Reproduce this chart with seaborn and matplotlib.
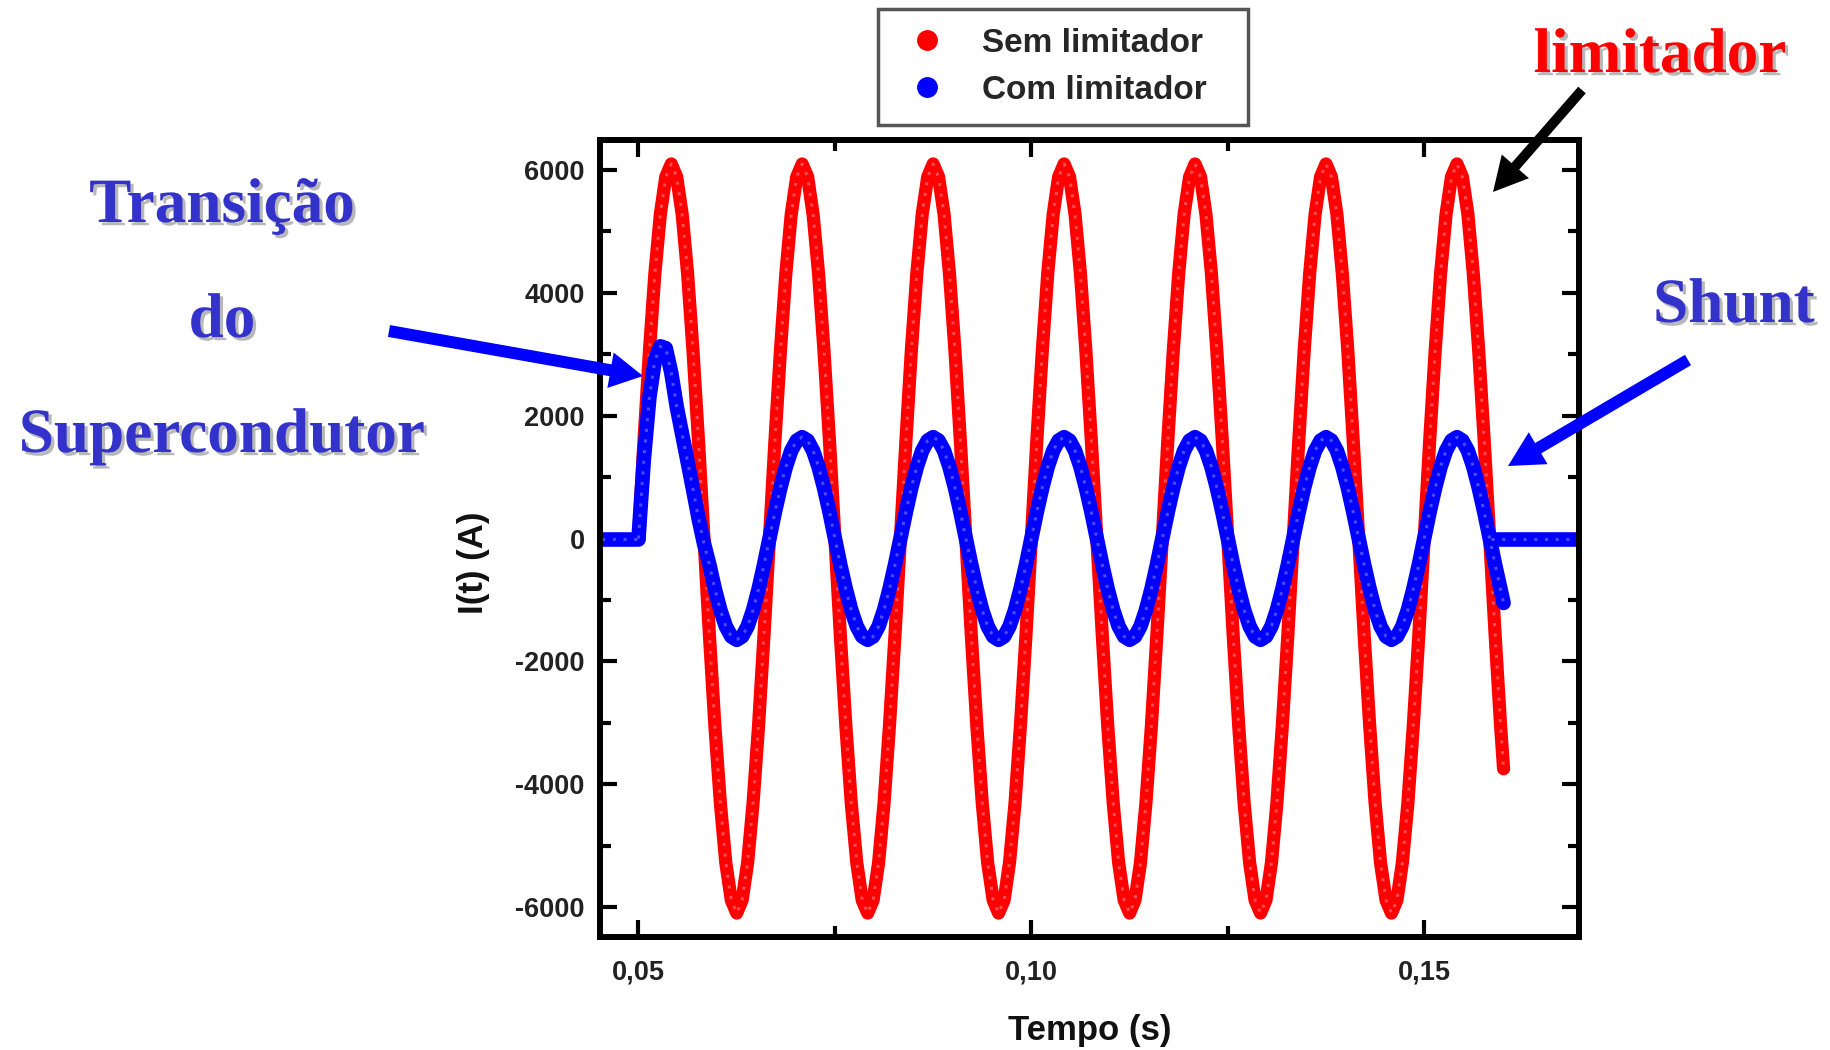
import pandas as pd
import seaborn as sns
import matplotlib.pyplot as plt
import matplotlib.patheffects as pe
from matplotlib.lines import Line2D
from matplotlib.patches import FancyArrow
from matplotlib.ticker import MultipleLocator
from matplotlib.transforms import IdentityTransform

# Tempo das amostras (s), 24 amostras por ciclo de 60 Hz
tempo = [
    0.05000, 0.05069, 0.05139, 0.05208, 0.05278, 0.05347, 0.05417, 0.05486, 0.05556, 0.05625, 0.05694, 0.05764,
    0.05833, 0.05903, 0.05972, 0.06042, 0.06111, 0.06181, 0.06250, 0.06319, 0.06389, 0.06458, 0.06528, 0.06597,
    0.06667, 0.06736, 0.06806, 0.06875, 0.06944, 0.07014, 0.07083, 0.07153, 0.07222, 0.07292, 0.07361, 0.07431,
    0.07500, 0.07569, 0.07639, 0.07708, 0.07778, 0.07847, 0.07917, 0.07986, 0.08056, 0.08125, 0.08194, 0.08264,
    0.08333, 0.08403, 0.08472, 0.08542, 0.08611, 0.08681, 0.08750, 0.08819, 0.08889, 0.08958, 0.09028, 0.09097,
    0.09167, 0.09236, 0.09306, 0.09375, 0.09444, 0.09514, 0.09583, 0.09653, 0.09722, 0.09792, 0.09861, 0.09931,
    0.10000, 0.10069, 0.10139, 0.10208, 0.10278, 0.10347, 0.10417, 0.10486, 0.10556, 0.10625, 0.10694, 0.10764,
    0.10833, 0.10903, 0.10972, 0.11042, 0.11111, 0.11181, 0.11250, 0.11319, 0.11389, 0.11458, 0.11528, 0.11597,
    0.11667, 0.11736, 0.11806, 0.11875, 0.11944, 0.12014, 0.12083, 0.12153, 0.12222, 0.12292, 0.12361, 0.12431,
    0.12500, 0.12569, 0.12639, 0.12708, 0.12778, 0.12847, 0.12917, 0.12986, 0.13056, 0.13125, 0.13194, 0.13264,
    0.13333, 0.13403, 0.13472, 0.13542, 0.13611, 0.13681, 0.13750, 0.13819, 0.13889, 0.13958, 0.14028, 0.14097,
    0.14167, 0.14236, 0.14306, 0.14375, 0.14444, 0.14514, 0.14583, 0.14653, 0.14722, 0.14792, 0.14861, 0.14931,
    0.15000, 0.15069, 0.15139, 0.15208, 0.15278, 0.15347, 0.15417, 0.15486, 0.15556, 0.15625, 0.15694, 0.15764,
    0.15833, 0.15903, 0.15972, 0.16010,
]

# Corrente sem limitador (A)
sem_limitador = [
    0, 1580, 3050, 4310, 5280, 5890, 6100, 5890, 5280, 4310, 3050, 1580,
    0, -1580, -3050, -4310, -5280, -5890, -6100, -5890, -5280, -4310, -3050, -1580,
    0, 1580, 3050, 4310, 5280, 5890, 6100, 5890, 5280, 4310, 3050, 1580,
    0, -1580, -3050, -4310, -5280, -5890, -6100, -5890, -5280, -4310, -3050, -1580,
    0, 1580, 3050, 4310, 5280, 5890, 6100, 5890, 5280, 4310, 3050, 1580,
    0, -1580, -3050, -4310, -5280, -5890, -6100, -5890, -5280, -4310, -3050, -1580,
    0, 1580, 3050, 4310, 5280, 5890, 6100, 5890, 5280, 4310, 3050, 1580,
    0, -1580, -3050, -4310, -5280, -5890, -6100, -5890, -5280, -4310, -3050, -1580,
    0, 1580, 3050, 4310, 5280, 5890, 6100, 5890, 5280, 4310, 3050, 1580,
    0, -1580, -3050, -4310, -5280, -5890, -6100, -5890, -5280, -4310, -3050, -1580,
    0, 1580, 3050, 4310, 5280, 5890, 6100, 5890, 5280, 4310, 3050, 1580,
    0, -1580, -3050, -4310, -5280, -5890, -6100, -5890, -5280, -4310, -3050, -1580,
    0, 1580, 3050, 4310, 5280, 5890, 6100, 5890, 5280, 4310, 3050, 1580,
    0, -1580, -3050, -3750,
]

# Corrente com limitador (A)
com_limitador = [
    0, 1300, 2300, 2900, 3130, 3100, 2700, 2150, 1700, 1250, 800, 330,
    -80, -430, -825, -1165, -1430, -1595, -1650, -1595, -1430, -1165, -825, -430,
    0, 430, 825, 1165, 1430, 1595, 1650, 1595, 1430, 1165, 825, 430,
    0, -430, -825, -1165, -1430, -1595, -1650, -1595, -1430, -1165, -825, -430,
    0, 430, 825, 1165, 1430, 1595, 1650, 1595, 1430, 1165, 825, 430,
    0, -430, -825, -1165, -1430, -1595, -1650, -1595, -1430, -1165, -825, -430,
    0, 430, 825, 1165, 1430, 1595, 1650, 1595, 1430, 1165, 825, 430,
    0, -430, -825, -1165, -1430, -1595, -1650, -1595, -1430, -1165, -825, -430,
    0, 430, 825, 1165, 1430, 1595, 1650, 1595, 1430, 1165, 825, 430,
    0, -430, -825, -1165, -1430, -1595, -1650, -1595, -1430, -1165, -825, -430,
    0, 430, 825, 1165, 1430, 1595, 1650, 1595, 1430, 1165, 825, 430,
    0, -430, -825, -1165, -1430, -1595, -1650, -1595, -1430, -1165, -825, -430,
    0, 430, 825, 1165, 1430, 1595, 1650, 1595, 1430, 1165, 825, 430,
    0, -430, -825, -1050,
]

# trechos em zero da corrente com limitador (antes da falta / depois da abertura)
com_antes_tempo = [0.0440, 0.0500]
com_antes_valor = [0, 0]
com_depois_tempo = [0.1585, 0.1710]
com_depois_valor = [0, 0]

x_ticks = [0.05, 0.10, 0.15]
x_ticklabels = ["0,05", "0,10", "0,15"]
y_ticks = [-6000, -4000, -2000, 0, 2000, 4000, 6000]
y_ticklabels = ["-6000", "-4000", "-2000", "0", "2000", "4000", "6000"]

W, H = 1831, 1050
VERMELHO = "#ff0000"
AZUL = "#0000ff"
AZUL_TEXTO = "#3333cc"
SERIF = ["Liberation Serif", "DejaVu Serif"]


def px(x, y):
    # pixel da imagem (origem no topo) -> pixel de tela (origem embaixo)
    return x, H - y


def seta(fig, tail, tip, color, width, head_w, head_l):
    x0, y0 = px(*tail)
    x1, y1 = px(*tip)
    arr = FancyArrow(x0, y0, x1 - x0, y1 - y0, width=width, head_width=head_w,
                     head_length=head_l, length_includes_head=True,
                     color=color, lw=0, transform=IdentityTransform())
    fig.add_artist(arr)


def texto(fig, x, y, s, color):
    fig.text(x / W, 1 - y / H, s, ha="center", va="baseline", color=color,
             fontsize=45.5, fontweight="bold", family=SERIF,
             path_effects=[pe.withSimplePatchShadow(offset=(2.3, -2.3),
                                                    shadow_rgbFace="#b8b8b8", alpha=1)])


def main():
    sns.set_style("ticks")
    plt.rcParams["font.family"] = ["Liberation Sans", "DejaVu Sans"]

    df_sem = pd.DataFrame({"tempo": tempo, "corrente": sem_limitador, "trecho": "falta"})
    df_com = pd.concat([
        pd.DataFrame({"tempo": com_antes_tempo, "corrente": com_antes_valor, "trecho": "antes"}),
        pd.DataFrame({"tempo": tempo, "corrente": com_limitador, "trecho": "falta"}),
        pd.DataFrame({"tempo": com_depois_tempo, "corrente": com_depois_valor, "trecho": "depois"}),
    ], ignore_index=True)

    fig = plt.figure(figsize=(W / 100, H / 100), dpi=100)
    ax = fig.add_axes([600 / W, 113 / H, 979 / W, 797.3 / H])

    estilo = dict(x="tempo", y="corrente", units="trecho", estimator=None, sort=False,
                  ax=ax, solid_capstyle="round", solid_joinstyle="round")
    sns.lineplot(data=df_sem, color=VERMELHO, linewidth=9.5, **estilo)
    # brilho das bolinhas do Origin
    sns.lineplot(data=df_sem, color="#ff9aa8", linewidth=2.2, alpha=0.5,
                 dashes=False, linestyle=(0, (1, 2.5)), **estilo)
    sns.lineplot(data=df_com, color=AZUL, linewidth=10.5, **estilo)
    sns.lineplot(data=df_com, color="#8c8cff", linewidth=2.2, alpha=0.55,
                 dashes=False, linestyle=(0, (1, 2.5)), **estilo)

    ax.set_xlim(0.0451, 0.1697)
    ax.set_ylim(-6490, 6495)
    ax.set_xticks(x_ticks, x_ticklabels)
    ax.set_yticks(y_ticks, y_ticklabels)
    ax.xaxis.set_minor_locator(MultipleLocator(0.025))
    ax.yaxis.set_minor_locator(MultipleLocator(1000))
    ax.tick_params(which="both", direction="in", top=True, right=True,
                   width=3, color="black", labelcolor="#222222")
    ax.tick_params(which="major", length=12, labelsize=19.5)
    ax.tick_params(which="minor", length=8)
    ax.tick_params(axis="x", which="major", pad=16)
    ax.tick_params(axis="y", which="major", pad=11)
    for lab in ax.get_xticklabels() + ax.get_yticklabels():
        lab.set_fontweight("bold")
    for sp in ax.spines.values():
        sp.set_linewidth(4.3)
        sp.set_color("black")

    ax.set_xlabel("Tempo (s)", fontsize=25, fontweight="bold", color="#111111")
    ax.set_ylabel("I(t) (A)", fontsize=25, fontweight="bold", color="#111111")
    ax.xaxis.set_label_coords(0.5, -0.097)
    ax.yaxis.set_label_coords(-0.112, 0.469)

    handles = [Line2D([], [], ls="", marker="o", ms=14, color=VERMELHO),
               Line2D([], [], ls="", marker="o", ms=14, color=AZUL)]
    leg = ax.legend(handles, ["Sem limitador", "Com limitador"], loc="upper left",
                    bbox_to_anchor=(878 / W, 1 - 125 / H, 370 / W, 116 / H),
                    bbox_transform=fig.transFigure, mode="expand", borderaxespad=0,
                    borderpad=0.57, labelspacing=0.47, handlelength=1.8, handletextpad=0.75,
                    frameon=True, fancybox=False, edgecolor="#555555", framealpha=1,
                    prop=dict(family=["Liberation Sans", "DejaVu Sans"], weight="bold", size=24))
    leg.get_frame().set_linewidth(2.5)

    # anotacoes
    texto(fig, 1660, 72, "limitador", VERMELHO)
    texto(fig, 1734, 322, "Shunt", AZUL_TEXTO)
    texto(fig, 222, 222, "Transição", AZUL_TEXTO)
    texto(fig, 222, 337, "do", AZUL_TEXTO)
    texto(fig, 222, 452, "Supercondutor", AZUL_TEXTO)

    seta(fig, (1582, 90), (1493, 192), "black", 10, 36, 34)
    seta(fig, (1688, 360), (1508, 466), AZUL, 12, 37, 35)
    seta(fig, (389, 331), (643, 376), AZUL, 12, 36, 33)

    fig.savefig("out.png", dpi=100)


if __name__ == "__main__":
    main()
